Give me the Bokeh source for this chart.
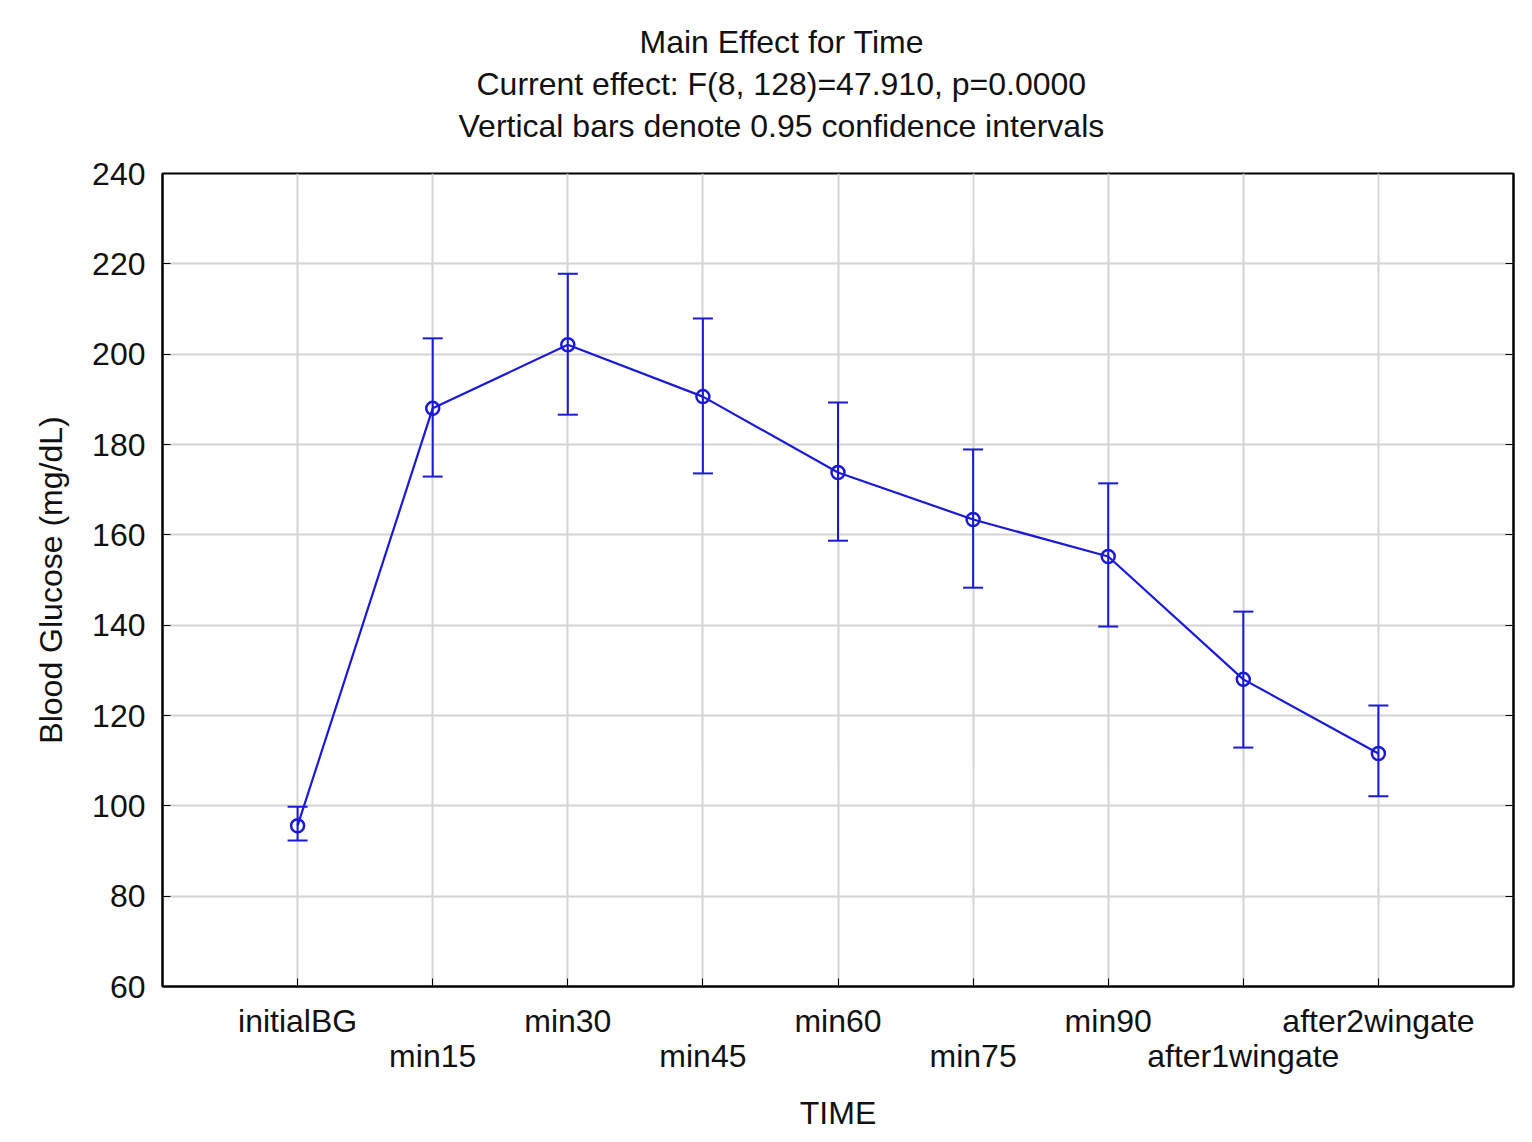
from bokeh.plotting import figure
from bokeh.models import (Range1d, LinearAxis, FixedTicker, Title, Whisker, TeeHead,
                          ColumnDataSource, Grid)
from bokeh.embed import file_html
from bokeh.resources import INLINE

categories = ["initialBG", "min15", "min30", "min45", "min60", "min75", "min90",
              "after1wingate", "after2wingate"]
means = [95.6, 188.0, 202.1, 190.6, 173.8, 163.4, 155.2, 128.0, 111.6]
upper = [99.8, 203.5, 217.8, 207.9, 189.3, 178.9, 171.4, 143.0, 122.2]
lower = [92.3, 172.9, 186.6, 173.6, 158.7, 148.3, 139.7, 112.9, 102.1]
y_ticks = [60, 80, 100, 120, 140, 160, 180, 200, 220, 240]

FONT = "Liberation Sans"
FS = "32px"
BLUE = "#1a1ad6"

xs = list(range(1, len(categories) + 1))
src = ColumnDataSource(dict(x=xs, y=means, up=upper, lo=lower))

p = figure(width=1532, height=1142, output_backend="svg", toolbar_location=None,
           x_range=Range1d(0, len(categories) + 1), y_range=Range1d(60, 240),
           x_axis_location=None, y_axis_location=None,
           min_border_left=162, min_border_right=19, min_border_top=173,
           min_border_bottom=156)
p.title = None
p.outline_line_color = "black"
p.outline_line_width = 2
p.background_fill_color = "white"
p.border_fill_color = "white"

# blank spacers between frame and titles
for _ in range(2):
    p.add_layout(Title(text=" ", text_font_size="11px", standoff=0), "above")
# titles (added bottom-up), left-aligned with offsets to center them near x=780
for txt, off in [("Vertical bars denote 0.95 confidence intervals", 296),
                 ("Current effect: F(8, 128)=47.910, p=0.0000", 314),
                 ("Main Effect for Time", 477)]:
    p.add_layout(Title(text=txt, align="left", text_font=FONT, text_font_size=FS,
                       text_font_style="normal", text_color="#111111", standoff=4,
                       offset=off), "above")

# y axis left
yax = LinearAxis(ticker=FixedTicker(ticks=y_ticks), axis_label="Blood Glucose (mg/dL)")
yax.major_tick_in = 8
yax.major_tick_out = 0
yax.minor_tick_line_color = None
yax.major_label_standoff = 17
yax.major_label_text_font = FONT
yax.major_label_text_font_size = FS
yax.major_label_text_color = "#111111"
yax.axis_label_text_font = FONT
yax.axis_label_text_font_size = FS
yax.axis_label_text_font_style = "normal"
yax.axis_label_text_color = "#111111"
yax.axis_label_standoff = 20
yax.axis_line_width = 2
p.add_layout(yax, "left")

# right axis ticks only
rax = LinearAxis(ticker=FixedTicker(ticks=y_ticks))
rax.major_tick_in = 8
rax.major_tick_out = 0
rax.minor_tick_line_color = None
rax.major_label_text_font_size = "0px"
rax.major_label_text_color = None
rax.axis_line_width = 2
p.add_layout(rax, "right")

# bottom axis: ticks at all categories, labels at odd positions
odd = {i: (categories[i - 1] if i % 2 == 1 else "") for i in xs}
even = {i: categories[i - 1] for i in xs if i % 2 == 0}

xax = LinearAxis(ticker=FixedTicker(ticks=xs), major_label_overrides=odd)
xax.major_tick_in = 8
xax.major_tick_out = 0
xax.minor_tick_line_color = None
xax.major_label_standoff = 16
xax.major_label_text_font = FONT
xax.major_label_text_font_size = FS
xax.major_label_text_color = "#111111"
xax.axis_line_width = 2
p.add_layout(xax, "below")

xax2 = LinearAxis(ticker=FixedTicker(ticks=list(even.keys())), major_label_overrides=even,
                  axis_label="TIME")
xax2.axis_line_color = None
xax2.major_tick_line_color = None
xax2.minor_tick_line_color = None
xax2.major_tick_in = 0
xax2.major_tick_out = 0
xax2.major_label_standoff = -4
xax2.major_label_text_font = FONT
xax2.major_label_text_font_size = FS
xax2.major_label_text_color = "#111111"
xax2.axis_label_text_font = FONT
xax2.axis_label_text_font_size = FS
xax2.axis_label_text_font_style = "normal"
xax2.axis_label_text_color = "#111111"
xax2.axis_label_standoff = 18
p.add_layout(xax2, "below")

# grids
p.xgrid.visible = False
p.ygrid.visible = False
p.add_layout(Grid(dimension=0, ticker=FixedTicker(ticks=xs), grid_line_color="#d4d4d4",
                  grid_line_width=2))
p.add_layout(Grid(dimension=1, ticker=FixedTicker(ticks=y_ticks), grid_line_color="#d4d4d4",
                  grid_line_width=2))

# data
p.line("x", "y", source=src, line_color=BLUE, line_width=2.2)
p.add_layout(Whisker(source=src, base="x", upper="up", lower="lo", line_color=BLUE,
                     line_width=2,
                     upper_head=TeeHead(size=20, line_color=BLUE, line_width=2),
                     lower_head=TeeHead(size=20, line_color=BLUE, line_width=2)))
p.scatter("x", "y", source=src, size=13, marker="circle", fill_color=None,
          line_color=BLUE, line_width=2.5)

open("out.html", "w").write(file_html(p, INLINE))
